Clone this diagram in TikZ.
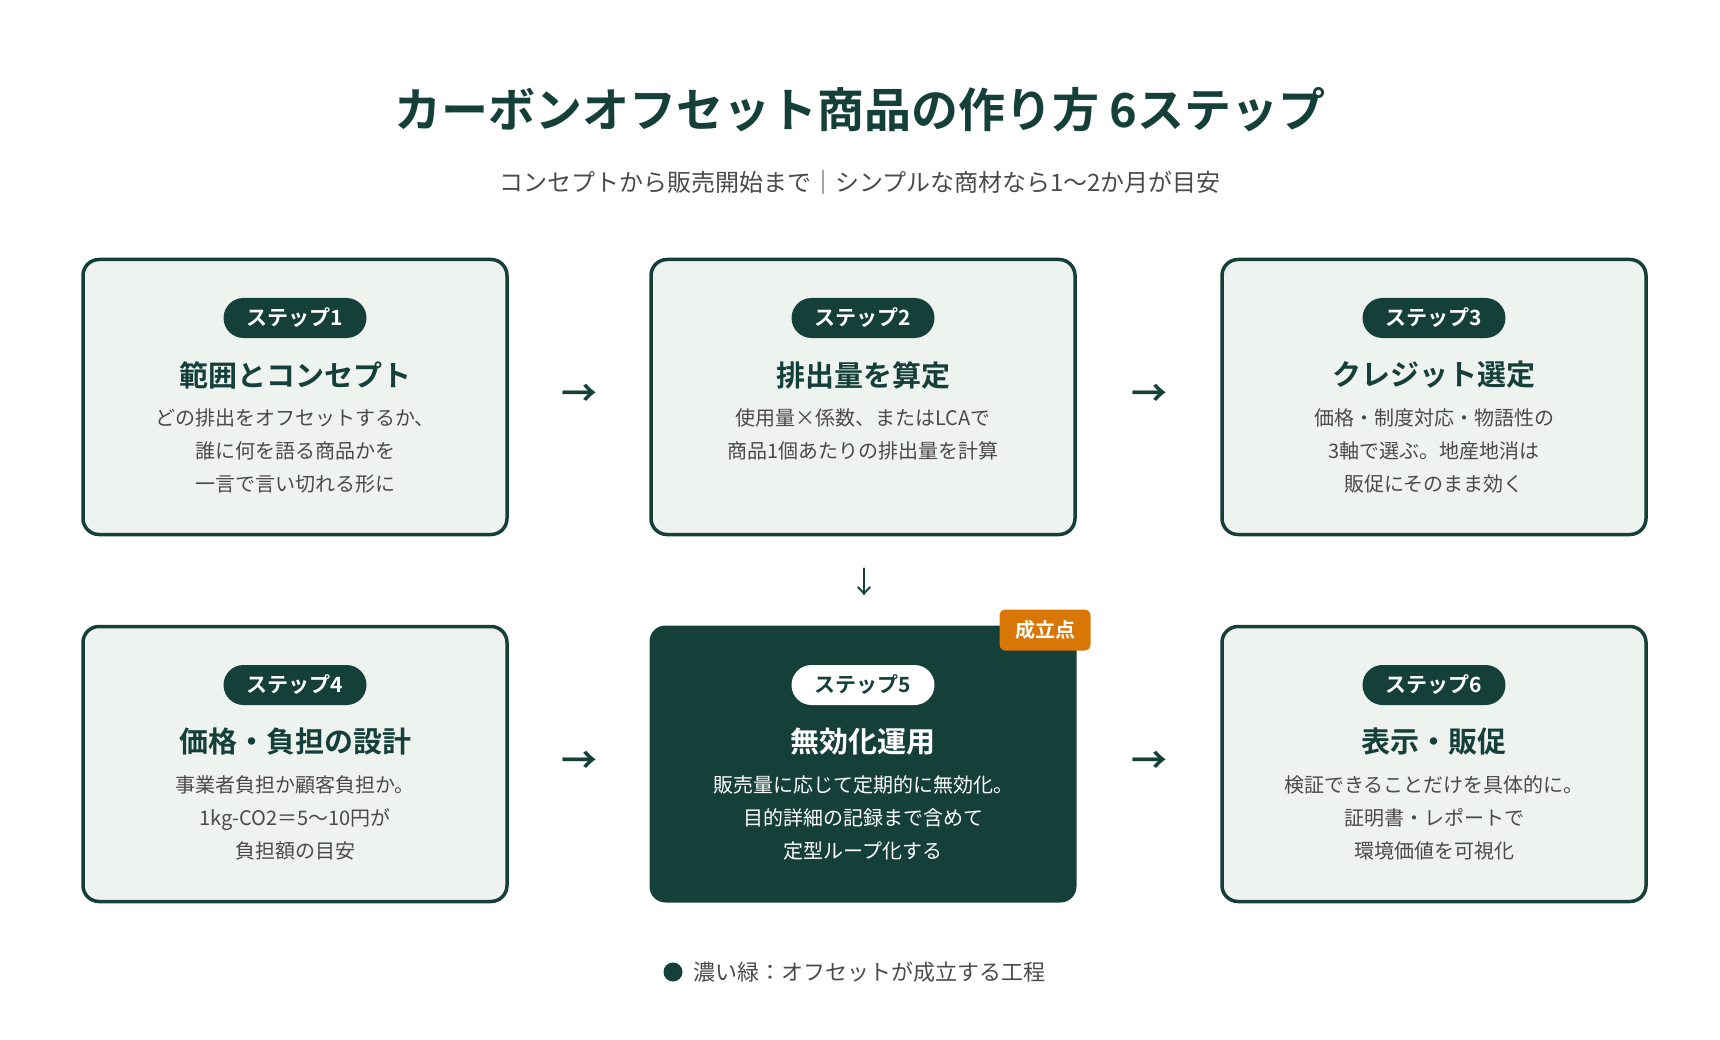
\documentclass[tikz,border=0pt]{standalone}
\usepackage{fontspec}
\setmainfont{Noto Sans CJK JP}[BoldFont=* Bold]
\definecolor{dg}{HTML}{15403A}
\definecolor{lg}{HTML}{EEF3EF}
\definecolor{tx}{HTML}{4A4A4A}
\definecolor{or}{HTML}{D97706}
\begin{document}
\begin{tikzpicture}[x=1pt,y=-1pt,
 box/.style={draw=dg,line width=3.5pt,fill=lg,rounded corners=16pt,minimum width=424pt,minimum height=275pt},
 dbox/.style={fill=dg,rounded corners=16pt,minimum width=427pt,minimum height=277pt},
 pill/.style={fill=dg,text=white,rounded corners=20pt,minimum width=143pt,minimum height=40pt,font=\bfseries\fontsize{21}{21}\selectfont,inner sep=0pt},
 wpill/.style={pill,fill=white,text=dg},
 head/.style={text=dg,font=\bfseries\fontsize{29}{29}\selectfont},
 body/.style={text=tx,align=center,font=\fontsize{20}{33}\selectfont},
 arr/.style={text=dg,font=\bfseries\fontsize{36}{36}\selectfont}]
\useasboundingbox (0,0) rectangle (1720,1040);
\node[text=dg,font=\bfseries\fontsize{47}{47}\selectfont] (title) at (860,110) {カーボンオフセット商品の作り方 6ステップ};
\node[text=tx,font=\fontsize{24}{24}\selectfont] (sub) at (860,182) {コンセプトから販売開始まで｜シンプルな商材なら1〜2か月が目安};
% boxes
\node[box] (b1) at (295,397) {};
\node[box] (b2) at (863,397) {};
\node[box] (b3) at (1434,397) {};
\node[box] (b4) at (295,764) {};
\node[dbox] (b5) at (863,764) {};
\node[box] (b6) at (1434,764) {};
% step 1
\node[pill] (p1) at (295,318) {ステップ1};
\node[head] (h1) at (295,375) {範囲とコンセプト};
\node[body,anchor=north] (t1) at (295,405) {どの排出をオフセットするか、\\誰に何を語る商品かを\\一言で言い切れる形に};
\node[pill] (p2) at (863,318) {ステップ2};
\node[head] (h2) at (863,375) {排出量を算定};
\node[body,anchor=north] (t2) at (863,405) {使用量×係数、またはLCAで\\商品1個あたりの排出量を計算};
\node[pill] (p3) at (1434,318) {ステップ3};
\node[head] (h3) at (1434,375) {クレジット選定};
\node[body,anchor=north] (t3) at (1434,405) {価格・制度対応・物語性の\\3軸で選ぶ。地産地消は\\販促にそのまま効く};
\node[pill] (p4) at (295,685) {ステップ4};
\node[head] (h4) at (295,742) {価格・負担の設計};
\node[body,anchor=north] (t4) at (295,772) {事業者負担か顧客負担か。\\1kg-CO2＝5〜10円が\\負担額の目安};
\node[wpill] (p5) at (863,685) {ステップ5};
\node[head,text=white] (h5) at (863,742) {無効化運用};
\node[body,text=white,anchor=north] (t5) at (863,772) {販売量に応じて定期的に無効化。\\目的詳細の記録まで含めて\\定型ループ化する};
\node[pill] (p6) at (1434,685) {ステップ6};
\node[head] (h6) at (1434,742) {表示・販促};
\node[body,anchor=north] (t6) at (1434,772) {検証できることだけを具体的に。\\証明書・レポートで\\環境価値を可視化};
\node[fill=or,text=white,rounded corners=6pt,minimum width=91pt,minimum height=41pt,inner sep=0pt,font=\bfseries\fontsize{20}{20}\selectfont] (badge) at (1045,630) {成立点};
% arrows
\node[arr] (a1) at (579,395) {→};
\node[arr] (a2) at (1149,395) {→};
\node[arr] (a4) at (579,762) {→};
\node[arr] (a5) at (1149,762) {→};
\node[text=dg,font=\fontsize{30}{30}\selectfont] (a3) at (864,582) {↓};
% legend
\fill[dg] (673,972) circle (9.5pt);
\node[text=tx,anchor=west,font=\fontsize{22}{22}\selectfont] (leg) at (690,972) {濃い緑：オフセットが成立する工程};
\end{tikzpicture}
\end{document}
